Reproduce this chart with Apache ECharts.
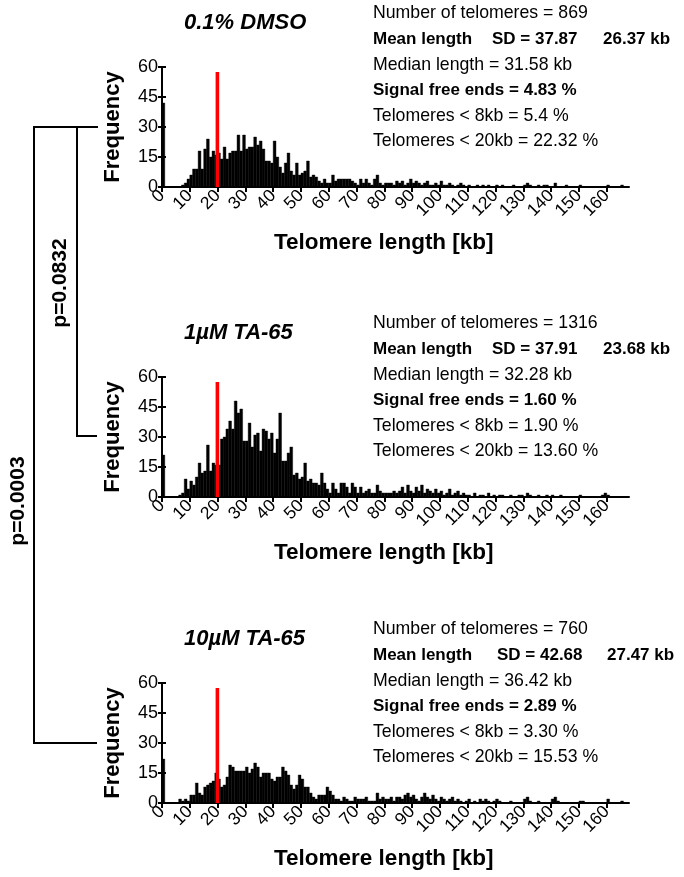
<!doctype html>
<html>
<head>
    <meta charset="UTF-8">
    <title>Telomere length distribution</title>
    <script src="https://cdn.jsdelivr.net/npm/echarts@6.0.0/dist/echarts.min.js"></script>
    <style>
        html, body { margin: 0; padding: 0; background: #fff; }
        #main { width: 684px; height: 877px; }
    </style>
</head>
<body>
<div id="main"></div>
<script>
    // frequency per 1 kb bin, bin k = [k, k+1) kb (bin 0 = signal free ends)
    var freqDMSO = [
        42,0,0,0,0,0,0,1,2,4,
        6,9,9,18,9,19,24,15,18,16,
        17,14,20,14,17,18,18,26,18,26,
        19,20,20,25,21,23,19,13,13,12,
        23,15,10,7,12,17,8,6,12,6,
        7,8,13,5,6,5,3,2,4,2,
        2,6,3,4,4,4,4,4,3,2,
        1,4,2,4,2,1,4,6,2,1,
        2,2,2,1,3,2,3,1,2,4,
        2,3,2,1,2,3,1,1,2,1,
        3,1,1,2,1,0,1,2,1,0,
        1,0,0,1,0,1,0,1,0,0,
        1,0,1,0,0,0,1,0,0,0,
        1,2,1,0,0,1,0,1,1,0,
        0,2,0,0,0,1,0,0,0,0,
        1,0,0,0,0,0,0,0,0,0,
        1,0,0,0,0,1,0,0
    ];
    var freqTA1 = [
        21,0,0,0,0,0,1,2,9,4,
        8,6,10,17,12,13,26,13,17,16,
        16,29,30,34,38,34,48,42,44,28,
        28,37,25,31,32,23,34,33,29,32,
        22,29,42,18,18,22,25,11,12,9,
        10,17,8,9,7,7,6,12,7,4,
        2,7,4,2,7,7,5,2,7,5,
        2,5,2,3,4,2,2,6,3,2,
        2,2,2,3,2,3,5,2,6,3,
        2,5,3,6,2,4,3,2,4,2,
        3,1,2,4,1,2,3,1,2,1,
        1,0,2,0,1,1,0,2,0,1,
        0,1,1,0,0,1,0,0,1,1,
        0,2,1,0,0,1,0,0,1,0,
        1,0,0,1,0,0,0,0,0,0,
        1,0,0,0,0,0,0,0,1,2,
        1,0,0,0,0,0,0,0
    ];
    var freqTA10 = [
        22,0,0,0,0,0,2,1,2,1,
        4,4,10,5,4,8,9,10,11,15,
        12,8,9,13,19,18,16,16,16,16,
        18,15,17,20,18,13,15,15,15,12,
        11,13,13,18,16,14,9,7,9,14,
        12,8,8,5,3,2,4,4,4,8,
        6,4,2,2,1,3,2,1,1,3,
        2,2,2,3,1,1,1,5,2,3,
        2,2,3,1,3,3,2,4,5,3,
        4,2,1,3,5,3,2,4,2,1,
        3,2,1,2,3,1,2,1,0,1,
        2,0,1,0,2,1,2,1,0,1,
        2,1,0,0,0,1,0,0,0,0,
        2,3,1,0,0,1,0,0,0,0,
        2,3,1,0,0,0,0,0,0,0,
        1,1,0,0,0,0,0,0,0,0,
        2,0,0,0,0,1,0,0
    ];

    var panelTitles = ['0.1% DMSO', '1µM TA-65', '10µM TA-65'];
    var statsDMSO = ['Number of telomeres = 869', ['Mean length', 'SD = 37.87', '26.37 kb'], 'Median length = 31.58 kb',
        'Signal free ends = 4.83 %', 'Telomeres < 8kb = 5.4 %', 'Telomeres < 20kb = 22.32 %'];
    var statsTA1 = ['Number of telomeres = 1316', ['Mean length', 'SD = 37.91', '23.68 kb'], 'Median length = 32.28 kb',
        'Signal free ends = 1.60 %', 'Telomeres < 8kb = 1.90 %', 'Telomeres < 20kb = 13.60 %'];
    var statsTA10 = ['Number of telomeres = 760', ['Mean length', 'SD = 42.68', '27.47 kb'], 'Median length = 36.42 kb',
        'Signal free ends = 2.89 %', 'Telomeres < 8kb = 3.30 %', 'Telomeres < 20kb = 15.53 %'];
    var xTicks = [0,10,20,30,40,50,60,70,80,90,100,110,120,130,140,150,160];
    var cutoffKb = 20;      // red line
    var cutoffTop = 57.5;
    var pValues = ['p=0.0832', 'p=0.0003'];

    var FONT = '"Liberation Sans", Arial, sans-serif';
    var gridTops = [67, 377, 683];
    var allFreq = [freqDMSO, freqTA1, freqTA10];
    var allStats = [statsDMSO, statsTA1, statsTA10];

    var dom = document.getElementById('main');
    var myChart = echarts.init(dom, null, {renderer: 'canvas'});

    function histItem(params, api) {
        var k = api.value(0), v = api.value(1);
        if (!v) return null;
        var p0 = api.coord([k, 0]);
        var p1 = api.coord([k + 1, v]);
        return {
            type: 'rect',
            shape: {x: p0[0], y: p1[1], width: p1[0] - p0[0], height: p0[1] - p1[1]},
            style: {fill: '#000', stroke: '#000', lineWidth: 0.4}
        };
    }
    function cutoffItem(params, api) {
        var p0 = api.coord([api.value(0), 0]);
        var p1 = api.coord([api.value(0), api.value(1)]);
        return {
            type: 'rect',
            shape: {x: p0[0] - 2, y: p1[1], width: 3.6, height: p0[1] - p1[1]},
            style: {fill: '#f00'}
        };
    }

    var grids = [], xAxes = [], yAxes = [], series = [], graphic = [];
    allFreq.forEach(function (freq, i) {
        var top = gridTops[i];
        grids.push({left: 162, top: top, width: 467, height: 120, containLabel: false});
        xAxes.push({
            gridIndex: i, type: 'value', min: 0, max: 168,
            axisLine: {lineStyle: {color: '#000', width: 2}},
            axisTick: {length: 5, lineStyle: {color: '#000', width: 2}, customValues: xTicks},
            axisLabel: {customValues: xTicks, rotate: 45, fontSize: 17.5, color: '#000', fontFamily: FONT, margin: 6},
            splitLine: {show: false}
        });
        // main y axis (labels, outer ticks)
        yAxes.push({
            gridIndex: i, type: 'value', min: 0, max: 60, interval: 15,
            axisLine: {show: true, lineStyle: {color: '#000', width: 2}},
            axisTick: {show: true, length: 4, lineStyle: {color: '#000', width: 2}},
            axisLabel: {fontSize: 18, color: '#000', fontFamily: FONT, margin: 4},
            splitLine: {show: false}
        });
        // second y axis only for inner half of the crossing ticks
        yAxes.push({
            gridIndex: i, type: 'value', min: 0, max: 60, interval: 15, position: 'left',
            axisLine: {show: false},
            axisTick: {show: true, inside: true, length: 4, lineStyle: {color: '#000', width: 2}},
            axisLabel: {show: false},
            splitLine: {show: false}
        });
        series.push({
            type: 'custom', xAxisIndex: i, yAxisIndex: 2 * i, z: 2,
            renderItem: histItem,
            data: freq.map(function (v, k) { return [k, v]; })
        });
        series.push({
            type: 'custom', xAxisIndex: i, yAxisIndex: 2 * i, z: 3,
            renderItem: cutoffItem,
            data: [[cutoffKb, cutoffTop]]
        });

        // panel title
        graphic.push({type: 'text', x: 184, y: top - 44.5, style: {
            text: panelTitles[i], font: 'italic bold 22px ' + FONT, fill: '#000',
            textAlign: 'left', textVerticalAlign: 'middle'}});
        // axis titles
        graphic.push({type: 'text', x: 113, y: top + 60, rotation: Math.PI / 2, style: {
            text: 'Frequency', font: 'bold 22px ' + FONT, fill: '#000',
            textAlign: 'center', textVerticalAlign: 'middle'}});
        graphic.push({type: 'text', x: 274, y: top + 120 + 56, style: {
            text: 'Telomere length [kb]', font: 'bold 22.5px ' + FONT, fill: '#000',
            textAlign: 'left', textVerticalAlign: 'middle'}});
        // stats block
        var st = allStats[i];
        st.forEach(function (line, j) {
            var y = top - 53.5 + j * 25.6;
            var bold = (j === 1 || j === 3);
            var font = bold ? 'bold 17px ' + FONT : '17.7px ' + FONT;
            if (Array.isArray(line)) {
                var xs = [373, i === 2 ? 497 : 492, i === 2 ? 607 : 603];
                line.forEach(function (t, n) {
                    graphic.push({type: 'text', x: xs[n], y: y, style: {text: t, font: font, fill: '#000',
                        textAlign: 'left', textVerticalAlign: 'middle'}});
                });
            } else {
                graphic.push({type: 'text', x: 373, y: y, style: {text: line, font: font, fill: '#000',
                    textAlign: 'left', textVerticalAlign: 'middle'}});
            }
        });
    });

    // significance brackets
    var yb1 = gridTops[0] + 60, yb2 = gridTops[1] + 59, yb3 = gridTops[2] + 60;
    graphic.push({type: 'polyline', shape: {points: [[98, yb1], [34, yb1], [34, yb3], [97, yb3]]},
        style: {stroke: '#000', lineWidth: 2, fill: null}});
    graphic.push({type: 'polyline', shape: {points: [[77, yb1], [77, yb2], [97, yb2]]},
        style: {stroke: '#000', lineWidth: 2, fill: null}});
    graphic.push({type: 'text', x: 60, y: 283, rotation: Math.PI / 2, style: {
        text: pValues[0], font: 'bold 21px ' + FONT, fill: '#000', textAlign: 'center', textVerticalAlign: 'middle'}});
    graphic.push({type: 'text', x: 18, y: 501, rotation: Math.PI / 2, style: {
        text: pValues[1], font: 'bold 21px ' + FONT, fill: '#000', textAlign: 'center', textVerticalAlign: 'middle'}});

    var option = {
        animation: false,
        backgroundColor: '#fff',
        grid: grids,
        xAxis: xAxes,
        yAxis: yAxes,
        series: series,
        graphic: graphic
    };
    myChart.setOption(option, true);
</script>
</body>
</html>
